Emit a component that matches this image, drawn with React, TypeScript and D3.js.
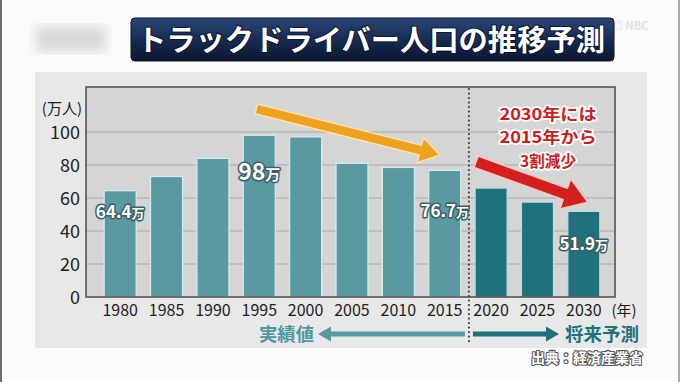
import React from "react";
import * as d3 from "d3";

const years = ["1980", "1985", "1990", "1995", "2000", "2005", "2010", "2015", "2020", "2025", "2030"];
const drivers = [64.4, 73, 84, 98, 97, 81, 78.5, 76.7, 66, 57.5, 51.9];
const forecastFrom = "2020";
const yTicks = [0, 20, 40, 60, 80, 100];
const valueLabels = [
  { year: "1980", num: "64.4", unit: "万", big: false, at: 48 },
  { year: "1995", num: "98", unit: "万", big: true, at: 71 },
  { year: "2015", num: "76.7", unit: "万", big: false, at: 48.5 },
  { year: "2030", num: "51.9", unit: "万", big: false, at: 28.5 },
];
const noteLines = ["2030年には", "2015年から", "3割減少"];
const noteWidths = [97, 97, 56];
const title = "トラックドライバー人口の推移予測";

const W = 680, H = 382;
const FONT = "'Noto Sans CJK JP', 'Noto Sans', sans-serif";

function arrowPoints(x1: number, y1: number, x2: number, y2: number, sw: number, hw: number, hl: number) {
  const dx = x2 - x1, dy = y2 - y1;
  const L = Math.hypot(dx, dy);
  const ux = dx / L, uy = dy / L;
  const px = -uy, py = ux;
  const bx = x2 - ux * hl, by = y2 - uy * hl;
  const pts = [
    [x1 + px * sw / 2, y1 + py * sw / 2],
    [bx + px * sw / 2, by + py * sw / 2],
    [bx + px * hw / 2, by + py * hw / 2],
    [x2, y2],
    [bx - px * hw / 2, by - py * hw / 2],
    [bx - px * sw / 2, by - py * sw / 2],
    [x1 - px * sw / 2, y1 - py * sw / 2],
  ];
  return pts.map((p) => p.join(",")).join(" ");
}

export default function App() {
  const plot = { l: 86, r: 615, t: 87, b: 297 };
  const x = d3.scaleBand<string>().domain(years).range([97, 607]).paddingInner(0.31).paddingOuter(0.155);
  const y = d3.scaleLinear().domain([0, 100]).range([plot.b, 132]);
  const fIdx = years.indexOf(forecastFrom);
  const divX = (x(years[fIdx - 1])! + x.bandwidth() + x(years[fIdx])!) / 2 + 1;
  const cx = (yr: string) => x(yr)! + x.bandwidth() / 2;

  const orange = arrowPoints(cx("1995") - 3, y(114), cx("2015") - 5, y(86), 10, 26, 20);
  const red = arrowPoints(cx("2020") - 15, y(82), cx("2030") + 4, y(57.5), 12, 32, 24);

  return (
    <svg width={W} height={H} style={{ position: "absolute", left: 0, top: 0 }} fontFamily={FONT}>
      <defs>
        <linearGradient id="tg" x1="0" y1="0" x2="0" y2="1">
          <stop offset="0" stopColor="#2a4677" />
          <stop offset="0.5" stopColor="#172c52" />
          <stop offset="1" stopColor="#0b1630" />
        </linearGradient>
        <filter id="blur"><feGaussianBlur stdDeviation="6" /></filter>
      </defs>
      <rect x={0} y={0} width={W} height={H} fill="#fbfbfb" />
      <line x1={1} y1={0} x2={1} y2={H} stroke="#6a7070" strokeWidth={2} />
      <line x1={679} y1={0} x2={679} y2={H} stroke="#8a9090" strokeWidth={1.5} />
      <rect x={36} y={26} width={70} height={26} fill="#d8d8d8" filter="url(#blur)" />
      <text x={612} y={30} fontSize={11} fill="#e2e2e2" fontWeight="bold">◎ NBC</text>

      {/* title */}
      <rect x={131} y={18} width={483} height={43} rx={4} fill="url(#tg)" stroke="#0a1428" strokeWidth={1} />
      <text x={137} y={51} fontSize={29} fontWeight="bold" fill="#ffffff" textLength={468} lengthAdjust="spacingAndGlyphs"
        style={{ paintOrder: "stroke" }} stroke="#0b1630" strokeWidth={2}>{title}</text>

      {/* panel */}
      <rect x={35} y={72} width={612} height={276} fill="#e8e8e8" />
      <rect x={plot.l} y={plot.t} width={plot.r - plot.l} height={plot.b - plot.t} fill="#d5d5d5" />
      {yTicks.filter((t) => t > 0).map((t) => (
        <line key={t} x1={plot.l} x2={plot.r} y1={y(t)} y2={y(t)} stroke="#a6a6a6" strokeWidth={1} />
      ))}
      {years.map((yr, i) => (
        <rect key={yr} x={x(yr)!} y={y(drivers[i])} width={x.bandwidth()} height={plot.b - y(drivers[i])}
          fill={i >= fIdx ? "#1f717e" : "#5a98a2"} stroke={i >= fIdx ? "#bcdde0" : "#d2eef0"} strokeWidth={1.2} />
      ))}
      <rect x={plot.l} y={plot.t} width={plot.r - plot.l} height={plot.b - plot.t} fill="none" stroke="#4a4a4a" strokeWidth={1.5} />

      {/* y axis */}
      <text x={82} y={114} fontSize={15} fill="#222" textAnchor="end">(万人)</text>
      {yTicks.map((t) => (
        <text key={t} x={80} y={y(t) + 6.5} fontSize={18} fill="#222" textAnchor="end">{t}</text>
      ))}

      {/* x axis */}
      {years.map((yr) => (
        <text key={yr} x={cx(yr)} y={316} fontSize={16} fill="#1e1e1e" textAnchor="middle">{yr}</text>
      ))}
      <text x={624} y={316} fontSize={15} fill="#1e1e1e" textAnchor="middle">(年)</text>

      {/* divider */}
      <line x1={divX} x2={divX} y1={plot.t + 2} y2={345} stroke="#444" strokeWidth={2.2} strokeDasharray="0.1 4.4" strokeLinecap="round" />

      {/* period arrows */}
      <polygon points={arrowPoints(divX - 4, 334, 318, 334, 5, 15, 13)} fill="#5a98a2" />
      <text x={259} y={341} fontSize={18} fontWeight="bold" fill="#4f97a0" textLength={55} lengthAdjust="spacingAndGlyphs">実績値</text>
      <polygon points={arrowPoints(divX + 4, 334, 559, 334, 5, 15, 13)} fill="#1f717e" />
      <text x={565} y={341} fontSize={18} fontWeight="bold" fill="#1f717e" textLength={74} lengthAdjust="spacingAndGlyphs">将来予測</text>

      {/* value labels */}
      {valueLabels.map((v) => (
        <text key={v.year} x={cx(v.year)} y={y(v.at)} textAnchor="middle" fontWeight="bold" fill="#ffffff"
          stroke="#3d5f63" strokeWidth={3} strokeLinejoin="round" style={{ paintOrder: "stroke" }}>
          <tspan fontSize={v.big ? 23 : 17}>{v.num}</tspan>
          <tspan fontSize={v.big ? 15 : 13}>{v.unit}</tspan>
        </text>
      ))}

      {/* trend arrows */}
      <polygon points={orange} fill="#eea11f" stroke="#fbe3b0" strokeWidth={1.5} strokeLinejoin="round" />
      <polygon points={red} fill="#d41f1f" stroke="#f3c8c8" strokeWidth={1.5} strokeLinejoin="round" />

      {noteLines.map((s, i) => (
        <text key={s} x={548} y={120 + i * 23.4} fontSize={16} fontWeight="bold" fill="#cc1c1c" textAnchor="middle"
          textLength={noteWidths[i]} lengthAdjust="spacingAndGlyphs"
          stroke="#ffffff" strokeWidth={3.5} strokeLinejoin="round" style={{ paintOrder: "stroke" }}>{s}</text>
      ))}

      {/* source */}
      <text x={643} y={363} fontSize={14} fontWeight="bold" fill="#ffffff" textAnchor="end"
        stroke="#555" strokeWidth={2.2} strokeLinejoin="round" style={{ paintOrder: "stroke" }}>出典：経済産業省</text>
    </svg>
  );
}
